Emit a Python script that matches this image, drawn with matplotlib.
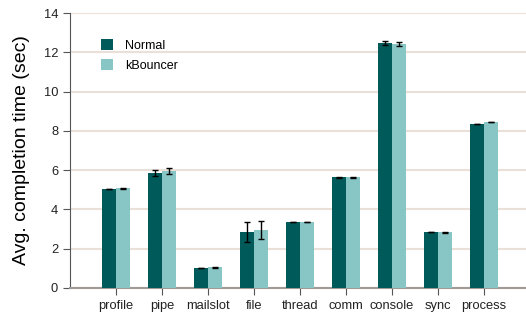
import numpy as np
import matplotlib.pyplot as plt

plt.rcParams['font.family'] = ['Liberation Sans', 'DejaVu Sans']

categories = ["profile", "pipe", "mailslot", "file", "thread", "comm", "console", "sync", "process"]
normal = [5.04, 5.85, 1.02, 2.85, 3.36, 5.64, 12.47, 2.85, 8.35]
kbouncer = [5.07, 5.96, 1.06, 2.95, 3.36, 5.63, 12.42, 2.84, 8.45]
normal_err = [0.02, 0.17, 0.02, 0.49, 0.02, 0.02, 0.08, 0.02, 0.02]
kbouncer_err = [0.02, 0.14, 0.02, 0.47, 0.02, 0.02, 0.08, 0.02, 0.02]

fig = plt.figure(figsize=(5.26, 3.15), dpi=100)
ax = fig.add_axes([70 / 526, 27 / 315, 456 / 526, 275 / 315])

x = np.arange(len(categories))
w = 0.3
err_kw = dict(ecolor="black", elinewidth=1, capsize=2, capthick=1)
ax.bar(x - w / 2, normal, w, yerr=normal_err, color="#005a5a", label="Normal", error_kw=err_kw, zorder=3)
ax.bar(x + w / 2, kbouncer, w, yerr=kbouncer_err, color="#88c6c6", label="kBouncer", error_kw=err_kw, zorder=3)

ax.set_xlim(-1, 8.92)
ax.set_ylim(0, 14)
ax.set_yticks(range(0, 15, 2))
ax.set_xticks(x)
ax.set_xticklabels(categories)
ax.yaxis.grid(True, color="#eae0d8", linewidth=1.5, zorder=0)
ax.set_axisbelow(True)

for s in ["top", "right"]:
    ax.spines[s].set_visible(False)
ax.spines["left"].set_color("#555555")
ax.spines["bottom"].set_color("#a09a96")
ax.spines["bottom"].set_linewidth(1.5)
ax.tick_params(axis="both", labelsize=9.3, colors="#555555", labelcolor="#222222", length=5)

ax.set_ylabel("Avg. completion time (sec)", fontsize=14, labelpad=10)

ax.legend(loc="upper left", bbox_to_anchor=(31 / 456, 0.905), frameon=False, fontsize=9,
          borderpad=0, borderaxespad=0,
          handlelength=0.95, handleheight=0.9, handletextpad=0.95, labelspacing=0.6)

fig.savefig("out.png", dpi=100)
